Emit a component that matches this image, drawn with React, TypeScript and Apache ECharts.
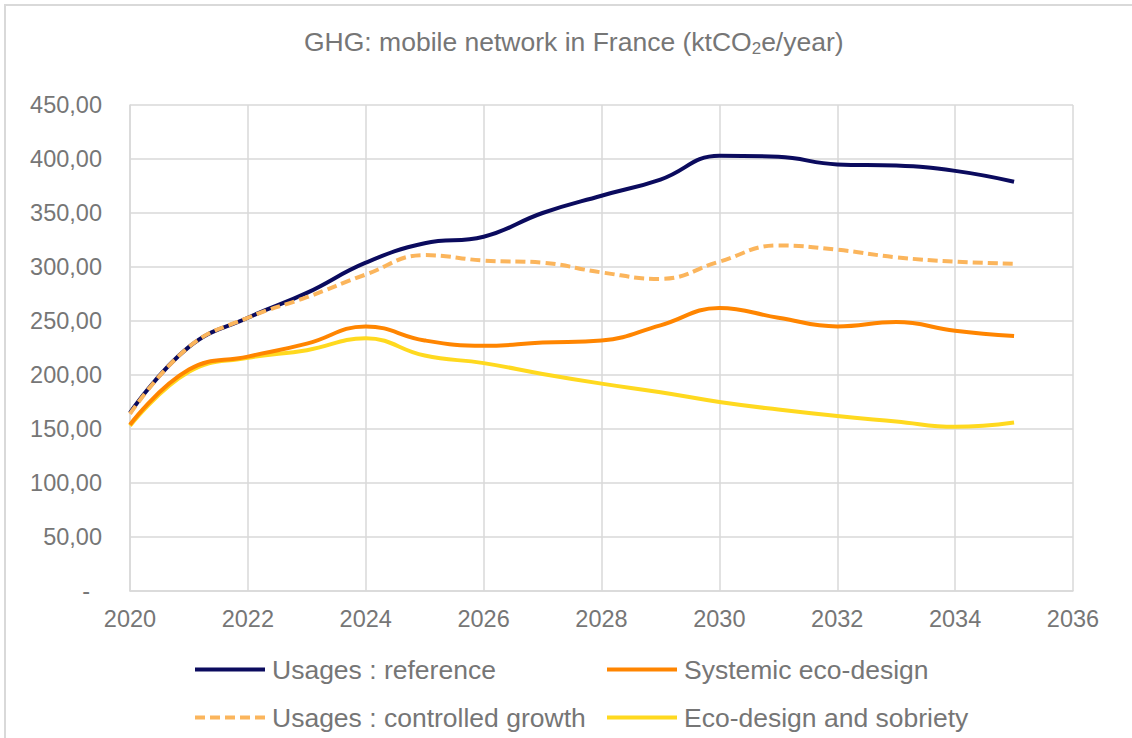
import React, { useEffect, useRef } from "react";
import * as echarts from "echarts";

const YEARS = [2020, 2021, 2022, 2023, 2024, 2025, 2026, 2027, 2028, 2029, 2030, 2031, 2032, 2033, 2034, 2035];
const REFERENCE = [165, 226, 253, 276, 304, 322, 328, 350, 366, 381, 403, 402, 395, 394, 389, 379];
const CONTROLLED = [164, 226, 253, 272, 293, 311, 306, 304, 295, 289, 305, 320, 316, 309, 305, 303];
const SYSTEMIC = [154, 205, 217, 229, 245, 232, 227, 230, 232, 246, 262, 253, 245, 249, 241, 236];
const SOBRIETY = [153, 203, 216, 223, 234, 218, 211, 201, 192, 184, 175, 168, 162, 157, 152, 156];

const NAMES = ["Usages : reference", "Usages : controlled growth", "Systemic eco-design", "Eco-design and sobriety"];
const COLORS = ["#0b0b5e", "#fbb55c", "#ff8500", "#ffd91f"];

const TEXT = "#767676";
const GRID = "#d9d9d9";
const FONT = "'Liberation Sans', Arial, sans-serif";

const pair = (vals: number[]) => YEARS.map((y, i) => [y, vals[i]]);

const LEGEND_POS = [
  { left: 188, top: 651 },
  { left: 188, top: 699 },
  { left: 600, top: 651 },
  { left: 600, top: 699 },
];

export default function App() {
  const ref = useRef<HTMLDivElement>(null);
  useEffect(() => {
    if (!ref.current) return;
    const chart = echarts.init(ref.current, undefined, { renderer: "svg" });
    const seriesVals = [REFERENCE, CONTROLLED, SYSTEMIC, SOBRIETY];
    chart.setOption({
      animation: false,
      backgroundColor: "#ffffff",
      textStyle: { fontFamily: FONT },
      graphic: [
        {
          type: "rect",
          shape: { x: 5, y: 5, width: 1140, height: 760 },
          style: { fill: "none", stroke: GRID, lineWidth: 2 },
          silent: true,
        },
      ],
      title: {
        text: "GHG: mobile network in France (ktCO{sub|2}e/year)",
        left: 299,
        top: 21,
        textStyle: {
          fontFamily: FONT,
          fontSize: 26.5,
          fontWeight: "normal",
          color: TEXT,
          rich: {
            sub: { fontFamily: FONT, fontSize: 17, color: TEXT, padding: [14, 0, 0, 0] },
          },
        },
      },
      legend: NAMES.map((n, i) => ({
        orient: "horizontal",
        left: LEGEND_POS[i].left,
        top: LEGEND_POS[i].top,
        itemWidth: 70,
        itemHeight: 14,
        itemStyle: { opacity: 0 },
        lineStyle: { width: 4 },
        textStyle: { fontFamily: FONT, fontSize: 26.5, color: TEXT, padding: [0, 0, 0, 2] },
        data: [n],
      })),
      grid: { left: 130, right: 59, top: 105, bottom: 147, containLabel: false },
      xAxis: {
        type: "value",
        min: 2020,
        max: 2036,
        interval: 2,
        axisLine: { show: true, lineStyle: { color: GRID, width: 1.5 } },
        axisTick: { show: false },
        splitLine: { show: true, lineStyle: { color: GRID, width: 1.5 } },
        axisLabel: {
          fontFamily: FONT,
          fontSize: 23.5,
          color: TEXT,
          margin: 16,
          formatter: (v: number) => String(v),
        },
      },
      yAxis: {
        type: "value",
        min: 0,
        max: 450,
        interval: 50,
        axisLine: { show: true, lineStyle: { color: GRID, width: 1.5 } },
        axisTick: { show: false },
        splitLine: { show: true, lineStyle: { color: GRID, width: 1.5 } },
        axisLabel: {
          fontFamily: FONT,
          fontSize: 23.5,
          color: TEXT,
          margin: 28,
          formatter: (v: number) => (v === 0 ? "{dash|-}" : v.toFixed(2).replace(".", ",")),
          rich: {
            dash: { fontFamily: FONT, fontSize: 23.5, color: TEXT, padding: [0, 12, 0, 0] },
          },
        },
      },
      series: seriesVals.map((vals, i) => ({
        name: NAMES[i],
        type: "line",
        data: pair(vals),
        smooth: 0.45,
        symbol: "none",
        showSymbol: false,
        color: COLORS[i],
        z: i === 1 ? 11 : 10 - i,
        lineStyle: {
          color: COLORS[i],
          width: 4,
          type: i === 1 ? [10, 5] : "solid",
          cap: "butt",
        },
      })),
    });
    return () => chart.dispose();
  }, []);
  return (
    <div
      ref={ref}
      style={{ position: "absolute", left: 0, top: 0, width: 1132, height: 738 }}
    />
  );
}
